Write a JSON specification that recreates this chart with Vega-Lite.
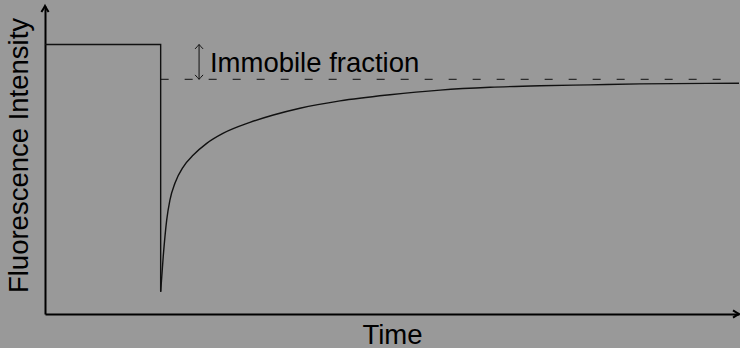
{
  "$schema": "https://vega.github.io/schema/vega-lite/v6.json",
  "width": 694,
  "height": 308,
  "autosize": {"type": "none"},
  "padding": {"left": 45, "top": 6, "right": 1, "bottom": 34},
  "background": "#999999",
  "config": {"view": {"stroke": null}, "font": "Liberation Sans"},
  "datasets": {
    "prebleach": [
      {"t": 0, "I": 0.875},
      {"t": 50, "I": 0.875},
      {"t": 50, "I": 0.072}
    ],
    "recovery": [
      {"t": 50, "I": 0.072},
      {"t": 51.1, "I": 0.186},
      {"t": 52.6, "I": 0.305},
      {"t": 54.0, "I": 0.37},
      {"t": 56.2, "I": 0.425},
      {"t": 59.8, "I": 0.478},
      {"t": 64.1, "I": 0.516},
      {"t": 69.9, "I": 0.554},
      {"t": 77.1, "I": 0.587},
      {"t": 88.6, "I": 0.622},
      {"t": 98.7, "I": 0.646},
      {"t": 110.2, "I": 0.668},
      {"t": 127.5, "I": 0.692},
      {"t": 149.1, "I": 0.712},
      {"t": 170.8, "I": 0.727},
      {"t": 192.4, "I": 0.736},
      {"t": 214.0, "I": 0.741},
      {"t": 235.6, "I": 0.744},
      {"t": 257.2, "I": 0.747},
      {"t": 300, "I": 0.749}
    ],
    "plateau": [{"t": 50, "t2": 297, "I": 0.762}],
    "immobile": [{"t": 66.6, "I": 0.875, "I2": 0.762}],
    "label": [{"t": 71.3, "I": 0.787, "text": "Immobile fraction"}]
  },
  "encoding": {
    "x": {
      "field": "t",
      "type": "quantitative",
      "scale": {"domain": [0, 300], "nice": false, "zero": false},
      "axis": {
        "title": "Time",
        "domain": true,
        "domainColor": "#000000",
        "domainWidth": 2,
        "ticks": false,
        "labels": false,
        "grid": false,
        "titleFont": "Liberation Sans",
        "titleFontSize": 27.5,
        "titleFontWeight": "normal",
        "titleColor": "#000000",
        "titleBaseline": "alphabetic",
        "titleAlign": "center",
        "titleX": 347,
        "titleY": 29.5
      }
    },
    "y": {
      "field": "I",
      "type": "quantitative",
      "scale": {"domain": [0, 1], "nice": false, "zero": false},
      "axis": {
        "title": "Fluorescence Intensity",
        "domain": true,
        "domainColor": "#000000",
        "domainWidth": 2,
        "ticks": false,
        "labels": false,
        "grid": false,
        "titleFont": "Liberation Sans",
        "titleFontSize": 27.5,
        "titleFontWeight": "normal",
        "titleColor": "#000000",
        "titleBaseline": "alphabetic",
        "titleAlign": "center",
        "titleAngle": -90,
        "titleX": -17.7,
        "titleY": 149
      }
    }
  },
  "layer": [
    {
      "data": {"name": "prebleach"},
      "mark": {"type": "line", "color": "#111111", "strokeWidth": 1.4, "interpolate": "linear"},
      "encoding": {"order": {"value": 0}}
    },
    {
      "data": {"name": "recovery"},
      "mark": {"type": "line", "color": "#111111", "strokeWidth": 1.4, "interpolate": "monotone"},
      "encoding": {}
    },
    {
      "data": {"name": "plateau"},
      "mark": {"type": "rule", "color": "#111111", "strokeWidth": 1, "strokeDash": [8, 16]},
      "encoding": {"x2": {"field": "t2"}}
    },
    {
      "data": {"name": "immobile"},
      "mark": {"type": "rule", "color": "#111111", "strokeWidth": 1},
      "encoding": {"y2": {"field": "I2"}}
    },
    {
      "data": {"name": "immobile"},
      "mark": {"type": "point", "filled": false, "opacity": 1, "stroke": "#111111", "strokeWidth": 1, "size": 64, "shape": "M-1,1.1 Q-0.3,0.35 0,0 Q0.3,0.35 1,1.1"},
      "encoding": {}
    },
    {
      "data": {"name": "immobile"},
      "mark": {"type": "point", "filled": false, "opacity": 1, "stroke": "#111111", "strokeWidth": 1, "size": 64, "shape": "M-1,-1.1 Q-0.3,-0.35 0,0 Q0.3,-0.35 1,-1.1"},
      "encoding": {"y": {"field": "I2", "type": "quantitative"}}
    },
    {
      "data": {"values": [{"t": 0, "I": 1}]},
      "mark": {"type": "point", "filled": false, "opacity": 1, "stroke": "#000000", "strokeWidth": 2, "size": 36, "shape": "M-1.2,2 Q-0.3,0.6 0,0 Q0.3,0.6 1.2,2"},
      "encoding": {}
    },
    {
      "data": {"values": [{"t": 300, "I": 0}]},
      "mark": {"type": "point", "filled": false, "opacity": 1, "stroke": "#000000", "strokeWidth": 2, "size": 36, "shape": "M-2,-1.2 Q-0.6,-0.3 0,0 Q-0.6,0.3 -2,1.2"},
      "encoding": {}
    },
    {
      "data": {"name": "label"},
      "mark": {"type": "text", "align": "left", "baseline": "alphabetic", "font": "Liberation Sans", "fontSize": 27.5, "color": "#000000"},
      "encoding": {"text": {"field": "text"}}
    }
  ]
}
